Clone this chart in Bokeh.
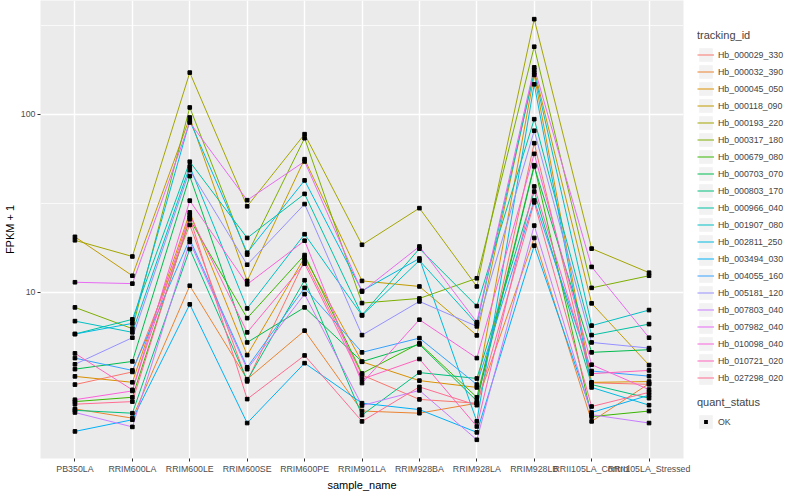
from bokeh.plotting import figure
from bokeh.layouts import row
from bokeh.models import (ColumnDataSource, Legend, LegendItem, FactorRange,
                          FixedTicker, NumeralTickFormatter, Range1d)
from bokeh.embed import file_html
from bokeh.resources import INLINE

samples = ["PB350LA", "RRIM600LA", "RRIM600LE", "RRIM600SE", "RRIM600PE",
           "RRIM901LA", "RRIM928BA", "RRIM928LA", "RRIM928LB",
           "RRII105LA_Control", "RRII105LA_Stressed"]

tracking_ids = ["Hb_000029_330", "Hb_000032_390", "Hb_000045_050", "Hb_000118_090",
                "Hb_000193_220", "Hb_000317_180", "Hb_000679_080", "Hb_000703_070",
                "Hb_000803_170", "Hb_000966_040", "Hb_001907_080", "Hb_002811_250",
                "Hb_003494_030", "Hb_004055_160", "Hb_005181_120", "Hb_007803_040",
                "Hb_007982_040", "Hb_010098_040", "Hb_010721_020", "Hb_027298_020"]

# FPKM + 1 per sample (order of `samples`)
hb_000029_330 = [3.04, 3.58, 23.9, 3.17, 15.1, 3.44, 2.51, 2.39, 68.7, 3.11, 3.05]
hb_000032_390 = [2.22, 1.97, 10.9, 3.26, 6.10, 2.16, 2.10, 2.39, 20.2, 1.89, 3.08]
hb_000045_050 = [3.38, 3.13, 28.1, 4.45, 15.7, 4.08, 3.20, 2.93, 166, 3.13, 3.16]
hb_000118_090 = [20.5, 12.4, 95.8, 11.6, 55.9, 11.6, 10.8, 5.74, 177, 8.68, 3.91]
hb_000193_220 = [19.6, 15.9, 171, 30.4, 77.2, 18.5, 29.7, 10.8, 341, 17.6, 12.9]
hb_000317_180 = [8.24, 6.26, 109, 16.3, 73.3, 8.71, 9.25, 12.0, 239, 10.6, 12.4]
hb_000679_080 = [2.44, 2.58, 25.7, 7.17, 16.2, 3.51, 5.18, 2.58, 51.7, 2.01, 2.16]
hb_000703_070 = [3.71, 4.10, 44.9, 5.24, 8.24, 4.09, 5.11, 2.46, 50.9, 4.61, 4.77]
hb_000803_170 = [2.18, 2.10, 17.5, 3.21, 11.7, 2.05, 3.55, 3.29, 36.8, 3.04, 2.55]
hb_000966_040 = [5.84, 7.06, 54.1, 20.2, 35.7, 7.46, 17.6, 8.38, 93.7, 5.76, 6.64]
hb_001907_080 = [6.90, 5.97, 50.9, 8.13, 21.2, 7.43, 15.1, 6.64, 171, 6.51, 7.96]
hb_002811_250 = [5.84, 6.70, 91.8, 16.7, 42.5, 10.2, 15.5, 1.89, 147, 2.93, 2.33]
hb_003494_030 = [1.66, 1.93, 8.57, 1.85, 4.01, 2.39, 2.20, 1.64, 18.3, 2.12, 2.65]
hb_004055_160 = [4.28, 3.65, 19.9, 3.80, 10.6, 4.61, 5.54, 3.04, 32.8, 3.62, 3.39]
hb_005181_120 = [3.95, 5.57, 48.5, 14.3, 31.3, 5.76, 8.90, 6.45, 80.7, 5.24, 4.87]
hb_007803_040 = [2.12, 1.76, 19.2, 3.71, 9.78, 2.32, 2.82, 1.49, 23.7, 2.06, 1.85]
hb_007982_040 = [11.4, 11.2, 89.8, 32.9, 54.3, 10.1, 18.1, 6.81, 183, 13.9, 5.57]
hb_010098_040 = [2.50, 2.80, 32.7, 11.1, 19.5, 3.10, 7.03, 4.28, 59.9, 3.93, 2.85]
hb_010721_020 = [4.55, 2.84, 27.1, 5.97, 14.5, 3.26, 4.23, 1.77, 39.3, 3.50, 3.65]
hb_027298_020 = [2.36, 2.44, 26.3, 2.52, 4.43, 1.89, 2.95, 2.33, 32.0, 2.29, 2.75]

series = [hb_000029_330, hb_000032_390, hb_000045_050, hb_000118_090, hb_000193_220,
          hb_000317_180, hb_000679_080, hb_000703_070, hb_000803_170, hb_000966_040,
          hb_001907_080, hb_002811_250, hb_003494_030, hb_004055_160, hb_005181_120,
          hb_007803_040, hb_007982_040, hb_010098_040, hb_010721_020, hb_027298_020]

quant_status = "OK"

colors = ["#F8766D", "#EA8331", "#D89000", "#C09B00", "#A3A500", "#7CAE00", "#39B600",
          "#00BB4E", "#00BF7D", "#00C1A3", "#00BFC4", "#00BAE0", "#00B0F6", "#35A2FF",
          "#9590FF", "#C77CFF", "#E76BF3", "#FA62DB", "#FF62BC", "#FF6C91"]

FONT = "Liberation Sans"

p = figure(x_range=FactorRange(factors=samples, range_padding=0.1,
                               range_padding_units="absolute"),
           y_range=Range1d(1.17, 434), y_axis_type="log",
           frame_width=643, frame_height=458,
           min_border_left=32, min_border_right=14, min_border_top=0,
           min_border_bottom=0,
           output_backend="svg", toolbar_location=None,
           background_fill_color="#EBEBEB", border_fill_color="white")
p.outline_line_color = None

# grid
p.xgrid.grid_line_color = "white"
p.xgrid.grid_line_width = 1.4
p.ygrid.ticker = FixedTicker(ticks=[10, 100], minor_ticks=[3.1623, 31.623, 316.23])
p.ygrid.grid_line_color = "white"
p.ygrid.grid_line_width = 1.4
p.ygrid.minor_grid_line_color = "white"
p.ygrid.minor_grid_line_width = 0.7

# axes
p.yaxis.ticker = FixedTicker(ticks=[10, 100])
p.yaxis.formatter = NumeralTickFormatter(format="0")
p.xaxis.axis_label = "sample_name"
p.yaxis.axis_label = "FPKM + 1"
for ax in (p.xaxis[0], p.yaxis[0]):
    ax.axis_line_color = None
    ax.major_tick_line_color = "#333333"
    ax.major_tick_out = 3
    ax.major_tick_in = 0
    ax.minor_tick_line_color = None
    ax.major_label_text_font = FONT
    ax.major_label_text_font_size = "8.8px"
    ax.major_label_text_color = "#4D4D4D"
    ax.major_label_standoff = 2
    ax.axis_label_text_font = FONT
    ax.axis_label_text_font_size = "11px"
    ax.axis_label_text_font_style = "normal"
    ax.axis_label_text_color = "black"
    ax.axis_label_standoff = 2

for vals, col in zip(series, colors):
    src = ColumnDataSource(dict(sample=samples, value=vals))
    p.line(x="sample", y="value", source=src, line_color=col, line_width=1.0)

for vals in series:
    src = ColumnDataSource(dict(sample=samples, value=vals))
    p.scatter(x="sample", y="value", source=src, marker="square", size=3.6,
              color="black")

# legend panel (separate blank figure to the right); its glyph renderers
# sit outside the visible range, so only their legend swatches show
lg = figure(frame_width=95, frame_height=458, min_border=0,
            x_axis_type=None, y_axis_type=None, output_backend="svg",
            toolbar_location=None, x_range=Range1d(0, 1), y_range=Range1d(0, 1))
lg.outline_line_color = None
lg.grid.grid_line_color = None
lg.background_fill_color = "white"
lg.border_fill_color = "white"

key_bg = lg.quad(left=[5], right=[6], top=[6], bottom=[5], fill_color="#F2F2F2",
                 line_color=None)
items = []
for tid, col in zip(tracking_ids, colors):
    r = lg.line(x=[5, 6], y=[5, 6], line_color=col, line_width=1.0)
    items.append(LegendItem(label=tid, renderers=[key_bg, r]))
ok_r = lg.scatter(x=[5], y=[5], marker="square", size=3.6, fill_color="black",
                  line_color="#F2F2F2", line_width=3)

legend_kw = dict(padding=0, margin=0, border_line_color=None,
                 background_fill_alpha=0, glyph_width=17, glyph_height=17,
                 label_height=17, spacing=0, label_standoff=4,
                 label_text_font=FONT, label_text_font_size="8.8px",
                 title_text_font=FONT, title_text_font_size="11px",
                 title_text_font_style="normal", title_standoff=5)

leg1 = Legend(items=items, title="tracking_id", location=(0, 72), **legend_kw)
leg2 = Legend(items=[LegendItem(label=quant_status, renderers=[key_bg, ok_r])],
              title="quant_status", location=(0, 28), **legend_kw)
lg.add_layout(leg1)
lg.add_layout(leg2)

layout = row(p, lg)
open("out.html", "w").write(file_html(layout, INLINE))
